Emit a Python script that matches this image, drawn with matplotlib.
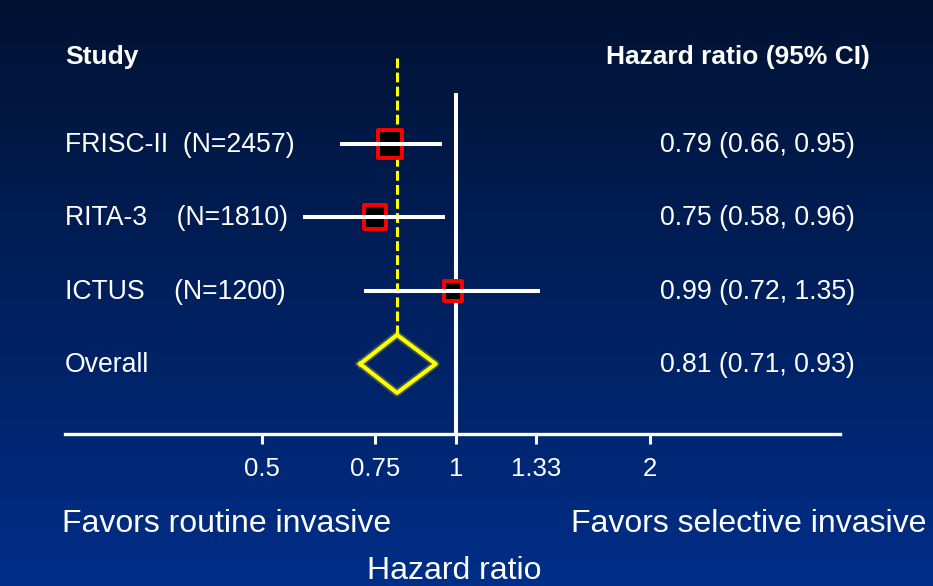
import numpy as np
import matplotlib
matplotlib.use("Agg")
import matplotlib.pyplot as plt
from matplotlib.ticker import NullLocator
from matplotlib.path import Path

# ---- data ----
studies = ["FRISC-II", "RITA-3", "ICTUS"]
sizes_n = [2457, 1810, 1200]
hr = [0.79, 0.75, 0.99]
ci_lo = [0.66, 0.58, 0.72]
ci_hi = [0.95, 0.96, 1.35]
overall_hr = 0.81
overall_lo = 0.71
overall_hi = 0.93
tick_vals = [0.5, 0.75, 1, 1.33, 2]
tick_labels = ["0.5", "0.75", "1", "1.33", "2"]

W, H = 933, 586
plt.rcParams['font.family'] = ['Liberation Sans', 'DejaVu Sans']
fig = plt.figure(figsize=(W / 100, H / 100), dpi=100)

# background gradient
bg = fig.add_axes([0, 0, 1, 1])
top = np.array([1, 18, 50]) / 255
bot = np.array([0, 46, 136]) / 255
t = np.linspace(0, 1, 256)[:, None]
grad = top[None, :] * (1 - t) + bot[None, :] * t
bg.imshow(grad[:, None, :], extent=[0, 1, 0, 1], aspect='auto', origin='upper')
bg.set_axis_off()

def px(x, y):
    return x / W, 1 - y / H

# main axes: x log scale, y in pixel rows
ax_left, ax_right, ax_bottom = 65, 840, 434
ax = fig.add_axes([ax_left / W, (H - ax_bottom) / H, (ax_right - ax_left) / W, ax_bottom / H])
ax.set_facecolor('none')
ax.set_xscale('log')
# 280 px per ln unit, 1.0 at x=456
ax.set_xlim(np.exp((ax_left - 456) / 280), np.exp((ax_right - 456) / 280))
ax.set_ylim(ax_bottom, 0)
for s in ['top', 'left', 'right']:
    ax.spines[s].set_visible(False)
ax.spines['bottom'].set_color('white')
ax.spines['bottom'].set_linewidth(2.4)
ax.set_yticks([])
ax.set_xticks(tick_vals)
ax.set_xticklabels(tick_labels)
ax.xaxis.set_minor_locator(NullLocator())
ax.tick_params(axis='x', which='major', direction='out', length=7.5, width=2.2,
               colors='white', labelsize=18.5, pad=9)
ax.xaxis.get_major_ticks()[tick_vals.index(1)].tick1line.set_color('black')

row0, row_step = 144, 73.3
rows = [row0 + i * row_step for i in range(len(studies))]
overall_y = row0 + len(studies) * row_step

# reference line at 1
ax.plot([1, 1], [93, ax_bottom], color='white', lw=2.9, zorder=2, solid_capstyle='butt')
# dashed overall line
ax.plot([overall_hr, overall_hr], [58, overall_y - 29], color='#ffff00', lw=2.2,
        dashes=(3.2, 1.4), zorder=2)

# slightly tall box marker
box = Path([(-0.45, -0.5), (0.45, -0.5), (0.45, 0.5), (-0.45, 0.5), (-0.45, -0.5)],
           [Path.MOVETO, Path.LINETO, Path.LINETO, Path.LINETO, Path.CLOSEPOLY])

# squares and CIs
for i in range(len(studies)):
    ms = 0.4 * np.sqrt(sizes_n[i])
    ax.plot([hr[i]], [rows[i]], marker=box, ms=ms, mfc='black', mec='#ff0000',
            mew=2.8, zorder=3, ls='none')
    ax.plot([ci_lo[i], ci_hi[i]], [rows[i], rows[i]], color='white', lw=2.9,
            zorder=4, solid_capstyle='butt')

# diamond
dx = [overall_lo, overall_hr, overall_hi, overall_hr, overall_lo]
dy = [overall_y, overall_y - 29, overall_y, overall_y + 29, overall_y]
ax.plot(dx, dy, color='#ffff00', lw=5.5, alpha=0.25, zorder=3)
ax.plot(dx, dy, color='#ffff00', lw=2.9, zorder=4)

# text
fs = 19.2
fig.text(*px(65, 57), "Study", color='white', fontsize=19, fontweight='bold',
         ha='left', va='center')
fig.text(*px(870, 57), "Hazard ratio (95% CI)", color='white', fontsize=19,
         fontweight='bold', ha='right', va='center')
name_strings = [studies[0] + "  (N=%d)" % sizes_n[0],
                studies[1] + "    (N=%d)" % sizes_n[1],
                studies[2] + "    (N=%d)" % sizes_n[2]]
for i in range(len(studies)):
    fig.text(*px(65, rows[i] + 1), name_strings[i], color='white', fontsize=fs,
             ha='left', va='center')
    fig.text(*px(660, rows[i] + 1), "%.2f (%.2f, %.2f)" % (hr[i], ci_lo[i], ci_hi[i]),
             color='white', fontsize=fs, ha='left', va='center')
fig.text(*px(65, overall_y + 1), "Overall", color='white', fontsize=fs, ha='left', va='center')
fig.text(*px(660, overall_y + 1), "%.2f (%.2f, %.2f)" % (overall_hr, overall_lo, overall_hi),
         color='white', fontsize=fs, ha='left', va='center')

fig.text(*px(62, 524), "Favors routine invasive", color='white', fontsize=23,
         ha='left', va='center')
fig.text(*px(926, 524), "Favors selective invasive", color='white', fontsize=23,
         ha='right', va='center')
fig.text(*px(454, 571), "Hazard ratio", color='white', fontsize=23,
         ha='center', va='center')

fig.savefig("out.png", dpi=100)
